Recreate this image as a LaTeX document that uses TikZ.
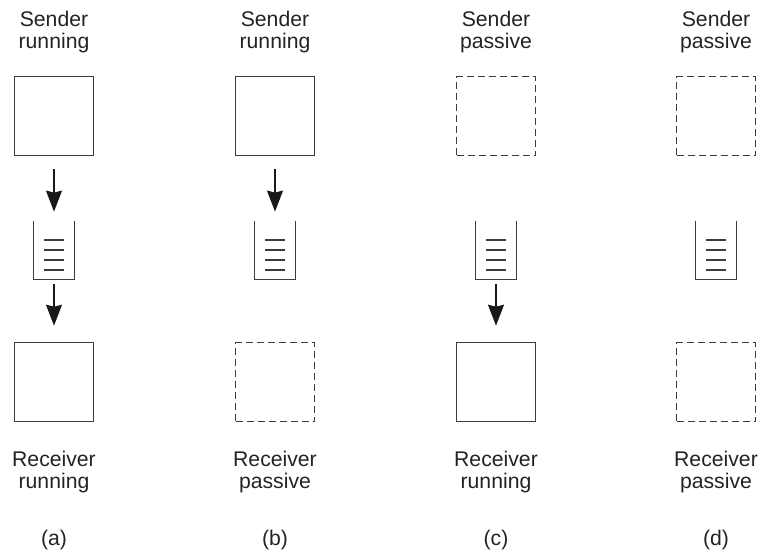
\documentclass[tikz,border=0pt]{standalone}
\usepackage{fontspec}
\setmainfont{Liberation Sans}
\usetikzlibrary{arrows.meta,positioning}
\definecolor{pline}{RGB}{60,60,60}
\definecolor{ptext}{RGB}{35,35,35}
\tikzstyle{proc} = [rectangle, minimum width=39.5pt, minimum height=39.5pt, inner sep=0pt, draw=pline, line width=0.8pt]
\tikzstyle{idle} = [proc, dash pattern=on 3.5pt off 2pt, line width=0.6pt]
\tikzstyle{buffer} = [rectangle, minimum width=20pt, minimum height=29pt, inner sep=0pt]
\tikzstyle{state} = [align=center, text=ptext, font=\fontsize{10.6}{11}\selectfont]
\tikzstyle{arrow} = [-{Stealth[length=10.5pt,width=8pt,inset=1pt]}, line width=0.7pt, color=black!90]

% open-topped message buffer with four messages
\newcommand{\msgbuf}[1]{%
  \draw[pline, line width=0.65pt] (#1.north west) |- (#1.south) -| (#1.north east);
  \foreach \dy in {5,0,-5,-10}
    \draw[pline, line width=0.6pt] ([xshift=-5pt, yshift=\dy pt]#1.center) -- ++(10pt,0);
}

\begin{document}
\begin{tikzpicture}
\useasboundingbox (0,0) rectangle (381pt,-279pt);

% (a) both running
\node (sendA) [proc] at (27pt,-58pt) {};
\node (bufA) [buffer, below of=sendA, node distance=67pt] {};
\node (recvA) [proc, below of=bufA, node distance=66pt] {};
\node (topA) [state, above of=sendA, node distance=42pt] {Sender\\running};
\node (botA) [state, below of=recvA, node distance=45pt] {Receiver\\running};
\node (capA) [state, below of=recvA, node distance=79pt] {(a)};
\msgbuf{bufA}
\draw[arrow, shorten <=6.5pt, shorten >=4.5pt] (sendA) -- (bufA);
\draw[arrow, shorten <=2.5pt, shorten >=8pt] (bufA) -- (recvA);

% (b) receiver passive
\node (sendB) [proc, right of=sendA, node distance=110.5pt] {};
\node (bufB) [buffer, below of=sendB, node distance=67pt] {};
\node (recvB) [idle, below of=bufB, node distance=66pt] {};
\node (topB) [state, above of=sendB, node distance=42pt] {Sender\\running};
\node (botB) [state, below of=recvB, node distance=45pt] {Receiver\\passive};
\node (capB) [state, below of=recvB, node distance=79pt] {(b)};
\msgbuf{bufB}
\draw[arrow, shorten <=6.5pt, shorten >=4.5pt] (sendB) -- (bufB);

% (c) sender passive
\node (sendC) [idle, right of=sendB, node distance=110.5pt] {};
\node (bufC) [buffer, below of=sendC, node distance=67pt] {};
\node (recvC) [proc, below of=bufC, node distance=66pt] {};
\node (topC) [state, above of=sendC, node distance=42pt] {Sender\\passive};
\node (botC) [state, below of=recvC, node distance=45pt] {Receiver\\running};
\node (capC) [state, below of=recvC, node distance=79pt] {(c)};
\msgbuf{bufC}
\draw[arrow, shorten <=2.5pt, shorten >=8pt] (bufC) -- (recvC);

% (d) both passive
\node (sendD) [idle, right of=sendC, node distance=110pt] {};
\node (bufD) [buffer, below of=sendD, node distance=67pt] {};
\node (recvD) [idle, below of=bufD, node distance=66pt] {};
\node (topD) [state, above of=sendD, node distance=42pt] {Sender\\passive};
\node (botD) [state, below of=recvD, node distance=45pt] {Receiver\\passive};
\node (capD) [state, below of=recvD, node distance=79pt] {(d)};
\msgbuf{bufD}
\end{tikzpicture}
\end{document}
